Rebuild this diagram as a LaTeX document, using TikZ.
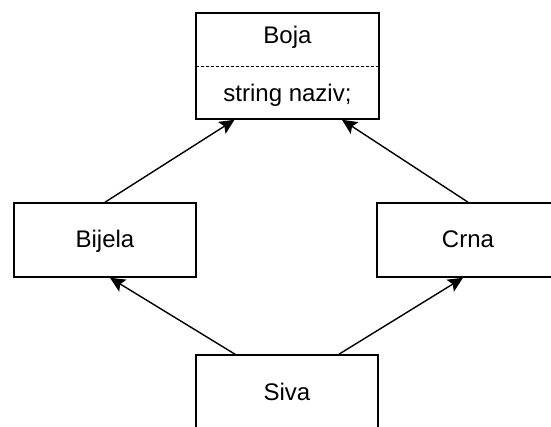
\documentclass[tikz,border=0pt]{standalone}
\usepackage{fontspec}
\setmainfont{Liberation Sans}
\usetikzlibrary{arrows.meta,calc}
\begin{document}
\begin{tikzpicture}[x=1pt,y=-1pt,
  box/.style={draw=black,line width=1.6pt,rectangle,inner sep=0pt,
    minimum width=182pt,minimum height=74pt,text height=21pt,text depth=5pt,
    font=\fontsize{24}{28}\selectfont},
  lbl/.style={font=\fontsize{24}{28}\selectfont,inner sep=0pt,anchor=base},
  arr/.style={draw=black,line width=1.4pt,-{Stealth[length=15pt,width=14pt,inset=3pt]}}]
\clip (0,0) rectangle (551,427);
\fill[white] (0,0) rectangle (551,427);
\node[box,minimum width=183pt,minimum height=106pt,text height=,text depth=] (boja) at (287.5,66) {};
\coordinate (divl) at (196,67);
\coordinate (divr) at (379,67);
\draw[line width=1pt,dash pattern=on 3pt off 2pt] (divl) -- (divr);
\node[lbl] (bojat) at (287.5,44) {Boja};
\node[lbl] (naziv) at (287.5,102) {string naziv;};
\node[box] (bijela) at (105,240) {Bijela};
\node[box] (crna) at (468,240) {Crna};
\node[box] (siva) at (287,392) {Siva};
\draw[arr] (bijela.north) -- ($(boja.south)+(-53,0)$);
\draw[arr] (crna.north) -- ($(boja.south)+(54.5,0)$);
\draw[arr] ($(siva.north)+(-52,0)$) -- ($(bijela.south)+(5,0)$);
\draw[arr] ($(siva.north)+(52,0)$) -- ($(crna.south)+(-5,0)$);
\end{tikzpicture}
\end{document}
